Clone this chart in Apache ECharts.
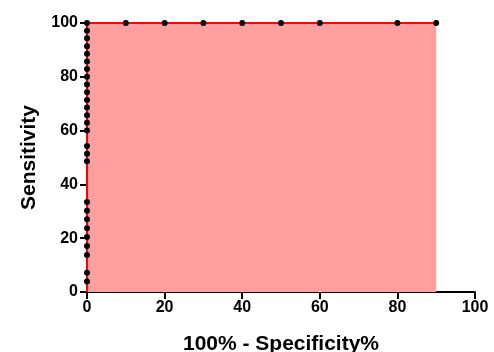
<!DOCTYPE html>
<html>
<head>
<meta charset="utf-8">
<script src="https://cdn.jsdelivr.net/npm/echarts@6/dist/echarts.min.js"></script>
<style>
  html, body { margin: 0; padding: 0; background: #fff; }
  #roc { width: 494px; height: 352px; }
</style>
</head>
<body>
<div id="roc"></div>
<script>
// ROC curve points (100% - specificity%, sensitivity%)
const specPct = [0, 0, 0, 0, 0, 0, 0, 0, 0, 0, 0, 0, 0, 0, 0, 0, 0, 0, 0, 0, 0, 0, 0, 0, 0, 0, 0, 0, 10, 20, 30, 40, 50, 60, 80, 90];
const sensPct = [0, 3.9, 7.2, 13.8, 17.1, 20.4, 23.7, 27.0, 30.2, 33.5, 48.6, 51.4, 54.3,
  60.0, 62.9, 65.7, 68.6, 71.4, 74.3, 77.1, 80.0, 82.9, 85.7, 88.6, 91.4, 94.3, 97.1, 100,
  100, 100, 100, 100, 100, 100, 100, 100];
const xTicks = [0, 20, 40, 60, 80, 100];
const yTicks = [0, 20, 40, 60, 80, 100];

const font = 'Liberation Sans, Arial, sans-serif';

let points = specPct.map(function (x, i) {
  // first point is the curve origin, drawn without a marker
  if (i === 0) return {value: [x, sensPct[i]], symbol: 'none'};
  return [x, sensPct[i]];
});

let axisCommon = {
  type: 'value',
  min: 0,
  max: 100,
  interval: 20,
  splitLine: {show: false},
  axisLine: {show: true, onZero: false, lineStyle: {color: '#000', width: 2}},
  axisTick: {show: true, inside: false, length: 7, lineStyle: {color: '#000', width: 2}},
  axisLabel: {color: '#000', fontFamily: font, fontWeight: 'bold', fontSize: 16},
  nameTextStyle: {color: '#000', fontFamily: font, fontWeight: 'bold', fontSize: 21},
};

let option = {
  animation: false,
  grid: {left: 87, right: 19, top: 23, bottom: 60, outerBoundsMode: 'none'},
  xAxis: Object.assign({}, axisCommon, {
    name: '100% - Specificity%',
    nameLocation: 'middle',
    nameGap: 42,
    axisLabel: Object.assign({}, axisCommon.axisLabel, {
      margin: 8,
      formatter: function (v) { return xTicks.indexOf(v) >= 0 ? v : ''; }
    }),
  }),
  yAxis: Object.assign({}, axisCommon, {
    name: 'Sensitivity',
    nameLocation: 'middle',
    nameGap: 47,
    axisLabel: Object.assign({}, axisCommon.axisLabel, {
      margin: 9,
      formatter: function (v) { return yTicks.indexOf(v) >= 0 ? v : ''; }
    }),
  }),
  series: [{
    type: 'line',
    data: points,
    symbol: 'circle',
    symbolSize: 6,
    itemStyle: {color: '#000'},
    lineStyle: {color: '#ff0000', width: 2},
    areaStyle: {color: '#ff9f9f', opacity: 1},
    z: 3,
  }]
};

let chart = echarts.init(document.getElementById('roc'), null, {width: 494, height: 352});
chart.setOption(option);
</script>
</body>
</html>
